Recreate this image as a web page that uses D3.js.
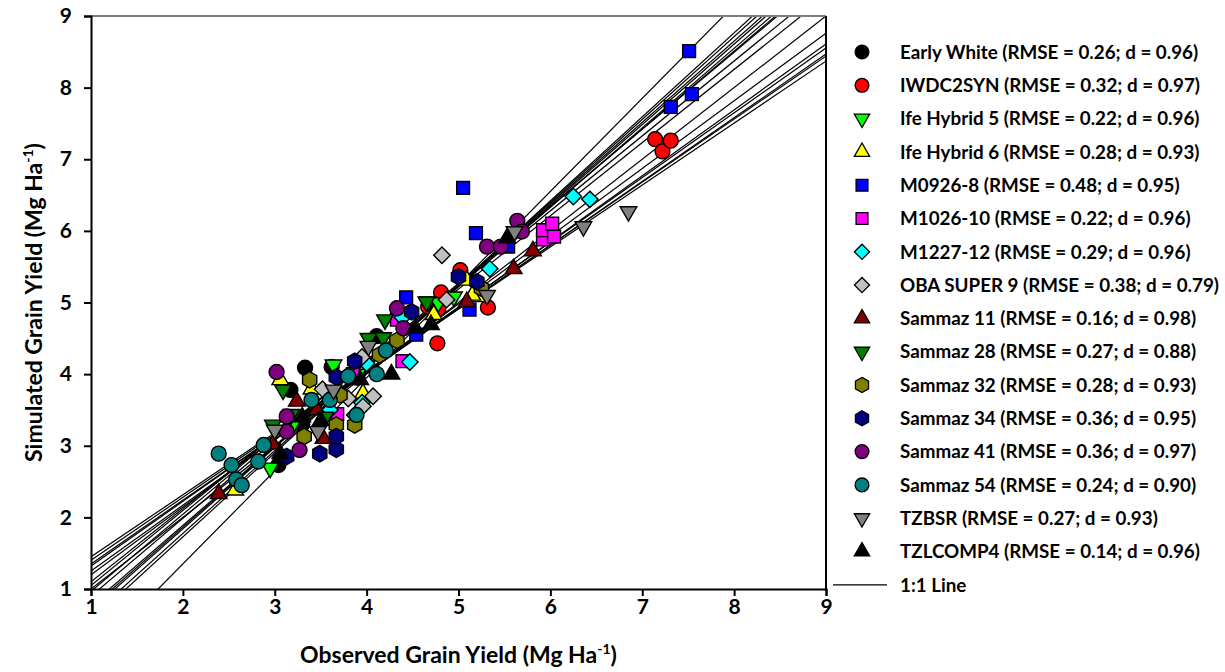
<!DOCTYPE html>
<html>
<head>
<meta charset="utf-8">
<script src="https://cdn.jsdelivr.net/npm/d3@7/dist/d3.min.js"></script>
<style>
  html, body { margin: 0; padding: 0; background: #fff; }
  svg text { font-family: Lato, "Open Sans", sans-serif; font-weight: bold; fill: #000; }
</style>
</head>
<body>
<svg id="chart" width="1225" height="672"></svg>
<script>
// Cultivar names, goodness-of-fit statistics and marker styling
const seriesNames = ["Early White", "IWDC2SYN", "Ife Hybrid 5", "Ife Hybrid 6", "M0926-8", "M1026-10",
  "M1227-12", "OBA SUPER 9", "Sammaz 11", "Sammaz 28", "Sammaz 32", "Sammaz 34", "Sammaz 41",
  "Sammaz 54", "TZBSR", "TZLCOMP4"];
const rmseValues = [0.26, 0.32, 0.22, 0.28, 0.48, 0.22, 0.29, 0.38, 0.16, 0.27, 0.28, 0.36, 0.36, 0.24, 0.27, 0.14];
const dValues = [0.96, 0.97, 0.96, 0.93, 0.95, 0.96, 0.96, 0.79, 0.98, 0.88, 0.93, 0.95, 0.97, 0.90, 0.93, 0.96];
const fillColors = ["#000000", "#ff0000", "#00ff00", "#ffff00", "#0000ff", "#ff00ff", "#00ffff", "#c0c0c0",
  "#800000", "#008000", "#808000", "#000080", "#800080", "#008080", "#808080", "#000000"];
const markerShapes = ["circle", "circle", "down", "up", "square", "square", "diamond", "diamond",
  "up", "down", "hexagon", "hexagon", "circle", "circle", "down", "up"];

// Observed vs simulated grain yield pairs (Mg/ha), one array per cultivar
const earlyWhite = [[3.04, 2.73], [3.17, 3.78], [3.33, 4.09], [3.62, 4.10], [4.11, 4.53], [3.30, 3.30], [3.90, 3.95]];
const iwdc2syn = [[4.67, 4.94], [4.77, 4.43], [4.78, 4.91], [4.81, 5.14], [5.02, 5.45], [5.32, 4.93], [7.14, 7.28], [7.22, 7.11], [7.31, 7.26]];
const ifeHybrid5 = [[2.95, 2.69], [3.64, 4.13], [4.67, 5.01], [4.78, 5.00], [4.95, 5.08], [3.90, 4.00], [3.20, 3.30]];
const ifeHybrid6 = [[2.57, 2.38], [3.06, 3.92], [3.40, 3.79], [3.96, 3.73], [4.73, 4.83], [5.09, 5.31], [5.23, 5.08], [5.15, 5.10]];
const m0926 = [[4.43, 5.07], [4.54, 4.55], [5.05, 6.60], [5.12, 4.90], [5.19, 5.97], [5.54, 5.78], [7.31, 7.73], [7.54, 7.91], [7.51, 8.51]];
const m1026 = [[3.68, 3.44], [4.33, 4.76], [4.39, 4.18], [5.92, 5.88], [5.92, 6.01], [6.02, 6.10], [6.04, 5.92], [3.85, 4.00]];
const m1227 = [[3.60, 3.50], [4.00, 4.15], [4.39, 4.79], [4.47, 4.17], [5.34, 5.47], [6.25, 6.48], [6.43, 6.44], [3.95, 3.60]];
const obaSuper9 = [[3.52, 3.79], [3.80, 3.66], [3.87, 3.43], [3.96, 3.55], [4.07, 3.69], [3.95, 4.24], [4.87, 5.04], [4.82, 5.66]];
const sammaz11 = [[2.39, 2.33], [2.98, 3.02], [3.24, 3.62], [3.46, 3.50], [3.53, 3.10], [5.09, 5.01], [5.60, 5.47], [5.81, 5.72]];
const sammaz28 = [[2.98, 3.29], [3.09, 3.78], [3.18, 3.44], [4.02, 4.50], [4.18, 4.51], [4.20, 4.76], [4.65, 5.01], [3.55, 3.40]];
const sammaz32 = [[3.32, 3.13], [3.38, 3.92], [3.67, 3.29], [3.71, 3.71], [3.87, 3.29], [4.14, 4.27], [4.33, 4.47], [5.25, 5.20]];
const sammaz34 = [[3.13, 2.85], [3.49, 2.89], [3.67, 2.95], [3.67, 3.13], [3.67, 3.96], [3.87, 4.18], [4.49, 4.87], [5.00, 5.36], [5.20, 5.29]];
const sammaz41 = [[3.02, 4.03], [3.13, 3.41], [3.13, 3.20], [3.27, 2.94], [4.33, 4.92], [4.40, 4.64], [5.31, 5.78], [5.46, 5.78], [5.64, 6.14], [5.69, 5.99]];
const sammaz54 = [[2.39, 2.89], [2.53, 2.73], [2.58, 2.53], [2.64, 2.45], [2.82, 2.78], [2.88, 3.01], [3.40, 3.64], [3.60, 3.64], [3.80, 3.97], [3.89, 3.43], [4.11, 4.00], [4.21, 4.33]];
const tzbsr = [[3.00, 3.22], [3.47, 3.20], [3.64, 3.78], [4.02, 4.39], [5.31, 5.10], [5.61, 5.99], [6.36, 6.06], [6.85, 6.27]];
const tzlcomp4 = [[3.06, 2.89], [3.30, 3.40], [3.50, 3.35], [3.93, 3.92], [4.27, 4.00], [4.53, 4.64], [4.70, 4.69], [5.53, 5.90]];

// Linear fit of simulated on observed for each cultivar: sim = intercept + slope * obs
const fitSlopes = [1.087, 0.945, 1.135, 1.110, 1.300, 0.920, 1.022, 1.173, 0.904, 0.890, 1.124, 1.156, 1.075, 0.880, 0.865, 1.046];
const fitIntercepts = [-0.187, 0.255, -0.430, -0.332, -1.250, 0.330, 0.078, -0.619, 0.416, 0.460, -0.384, -0.536, -0.107, 0.520, 0.585, 0.004];

const axisTicks = [1, 2, 3, 4, 5, 6, 7, 8, 9];

const seriesPoints = [earlyWhite, iwdc2syn, ifeHybrid5, ifeHybrid6, m0926, m1026, m1227, obaSuper9,
  sammaz11, sammaz28, sammaz32, sammaz34, sammaz41, sammaz54, tzbsr, tzlcomp4];

const series = seriesNames.map((name, i) => ({
  name, rmse: rmseValues[i], d: dValues[i], fill: fillColors[i], shape: markerShapes[i],
  points: seriesPoints[i], slope: fitSlopes[i], intercept: fitIntercepts[i]
}));

const svg = d3.select("#chart");
const margin = { left: 91, top: 16, right: 826, bottom: 589 };
const x = d3.scaleLinear().domain([1, 9]).range([margin.left, margin.right]);
const y = d3.scaleLinear().domain([1, 9]).range([margin.bottom, margin.top]);

// Pointy-top hexagon symbol
const symbolHexagon = {
  draw(ctx, size) {
    const r = Math.sqrt(size / (1.5 * Math.sqrt(3)));
    for (let k = 0; k < 6; k++) {
      const a = Math.PI / 3 * k - Math.PI / 2;
      const px = r * Math.cos(a), py = r * Math.sin(a);
      if (k === 0) ctx.moveTo(px, py); else ctx.lineTo(px, py);
    }
    ctx.closePath();
  }
};

function markerPath(shape, scale) {
  const s = scale || 1;
  switch (shape) {
    case "circle": return { d: d3.symbol(d3.symbolCircle, 175 * s)(), rot: 0 };
    case "square": return { d: d3.symbol(d3.symbolSquare, 165 * s)(), rot: 0 };
    case "diamond": return { d: d3.symbol(d3.symbolSquare, 135 * s)(), rot: 45 };
    case "up": return { d: d3.symbol(d3.symbolTriangle, 120 * s)(), rot: 0 };
    case "down": return { d: d3.symbol(d3.symbolTriangle, 120 * s)(), rot: 180 };
    case "hexagon": return { d: d3.symbol(symbolHexagon, 175 * s)(), rot: 0 };
  }
}

// Clip region for the fit lines
svg.append("defs").append("clipPath").attr("id", "plotClip")
  .append("rect")
  .attr("x", margin.left).attr("y", margin.top)
  .attr("width", margin.right - margin.left).attr("height", margin.bottom - margin.top);

const lines = svg.append("g").attr("clip-path", "url(#plotClip)");
// 1:1 line
lines.append("line")
  .attr("x1", x(0)).attr("y1", y(0)).attr("x2", x(10)).attr("y2", y(10))
  .attr("stroke", "#000").attr("stroke-width", 1.2);
// per-cultivar fit lines
lines.selectAll("line.fit").data(series).join("line")
  .attr("class", "fit")
  .attr("x1", x(0)).attr("y1", d => y(d.intercept))
  .attr("x2", x(10)).attr("y2", d => y(d.intercept + d.slope * 10))
  .attr("stroke", "#000").attr("stroke-width", 1.2);

// Markers
const markers = svg.append("g");
series.forEach(s => {
  const m = markerPath(s.shape);
  markers.append("g").selectAll("path").data(s.points).join("path")
    .attr("d", m.d)
    .attr("transform", p => `translate(${x(p[0])},${y(p[1])}) rotate(${m.rot})`)
    .attr("fill", s.fill)
    .attr("stroke", "#000")
    .attr("stroke-width", 1.4);
});

// Frame: top and right borders
svg.append("line").attr("x1", margin.left).attr("x2", margin.right)
  .attr("y1", margin.top).attr("y2", margin.top)
  .attr("stroke", "#7f7f7f").attr("stroke-width", 2);
svg.append("line").attr("x1", margin.right).attr("x2", margin.right)
  .attr("y1", margin.top).attr("y2", margin.bottom)
  .attr("stroke", "#000").attr("stroke-width", 2);

// Axes
const xAxis = svg.append("g").attr("transform", `translate(0,${margin.bottom})`)
  .call(d3.axisBottom(x).tickValues(axisTicks).tickFormat(d3.format("d")).tickSize(7).tickPadding(3));
const yAxis = svg.append("g").attr("transform", `translate(${margin.left},0)`)
  .call(d3.axisLeft(y).tickValues(axisTicks).tickFormat(d3.format("d")).tickSize(7).tickPadding(12));
[xAxis, yAxis].forEach(g => {
  g.select(".domain").attr("stroke", "#000").attr("stroke-width", 2);
  g.selectAll(".tick line").attr("stroke", "#000").attr("stroke-width", 2);
  g.selectAll(".tick text").style("font-size", "21px").style("font-family", "Lato").style("font-weight", "bold");
});

// Axis titles
const xTitle = svg.append("text").attr("x", (margin.left + margin.right) / 2).attr("y", 663)
  .attr("text-anchor", "middle").style("font-size", "23px");
xTitle.append("tspan").text("Observed Grain Yield (Mg Ha");
xTitle.append("tspan").attr("dy", -9).style("font-size", "14px").text("-1");
xTitle.append("tspan").attr("dy", 9).text(")");

const yTitle = svg.append("text")
  .attr("transform", `translate(42,${(margin.top + margin.bottom) / 2}) rotate(-90)`)
  .attr("text-anchor", "middle").style("font-size", "23px");
yTitle.append("tspan").text("Simulated Grain Yield (Mg Ha");
yTitle.append("tspan").attr("dy", -9).style("font-size", "14px").text("-1");
yTitle.append("tspan").attr("dy", 9).text(")");

// Legend
const legendTop = 52, legendStep = 33.3;
const legend = svg.append("g");
series.forEach((s, i) => {
  const cy = legendTop + i * legendStep;
  const m = markerPath(s.shape, 0.85);
  legend.append("path").attr("d", m.d)
    .attr("transform", `translate(862,${cy}) rotate(${m.rot})`)
    .attr("fill", s.fill).attr("stroke", "#000").attr("stroke-width", 1.3);
  legend.append("text").attr("x", 900).attr("y", cy).attr("dy", "0.36em")
    .style("font-size", "18.8px")
    .text(`${s.name} (RMSE = ${s.rmse.toFixed(2)}; d = ${s.d.toFixed(2)})`);
});
const oneY = legendTop + 16 * legendStep;
legend.append("line").attr("x1", 833).attr("x2", 887).attr("y1", oneY).attr("y2", oneY)
  .attr("stroke", "#000").attr("stroke-width", 1.2);
legend.append("text").attr("x", 900).attr("y", oneY).attr("dy", "0.36em")
  .style("font-size", "18.8px").text("1:1 Line");
</script>
</body>
</html>
